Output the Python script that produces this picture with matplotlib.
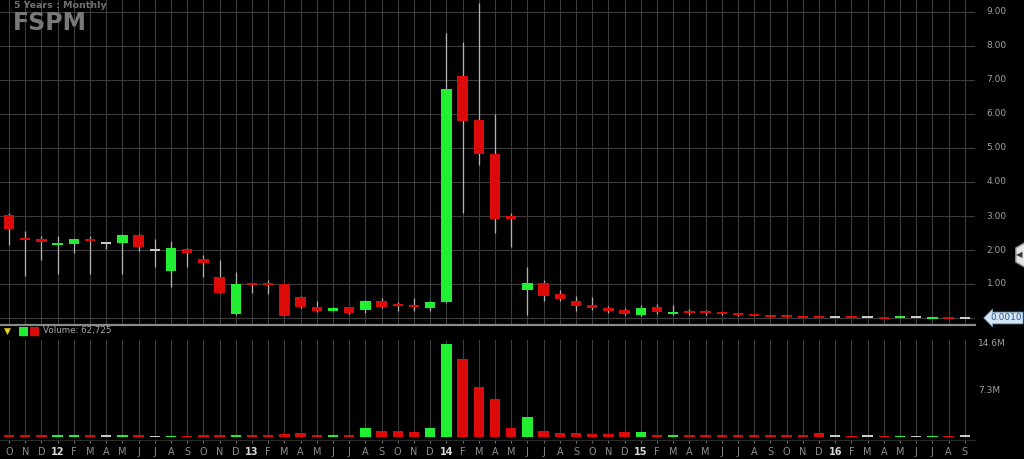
import matplotlib
matplotlib.use("Agg")
import matplotlib.pyplot as plt
from matplotlib.patches import RegularPolygon
from matplotlib.transforms import IdentityTransform

# ---------------- data ----------------
month_labels = ['O', 'N', 'D', '12', 'F', 'M', 'A', 'M', 'J', 'J', 'A', 'S',
                'O', 'N', 'D', '13', 'F', 'M', 'A', 'M', 'J', 'J', 'A', 'S',
                'O', 'N', 'D', '14', 'F', 'M', 'A', 'M', 'J', 'J', 'A', 'S',
                'O', 'N', 'D', '15', 'F', 'M', 'A', 'M', 'J', 'J', 'A', 'S',
                'O', 'N', 'D', '16', 'F', 'M', 'A', 'M', 'J', 'J', 'A', 'S']

opens = [3.03, 2.33, 2.32, 2.17, 2.17, 2.32, 2.20, 2.20, 2.44, 2.00, 1.38, 2.03,
         1.74, 1.21, 0.12, 1.00, 1.00, 1.00, 0.62, 0.32, 0.22, 0.32, 0.24, 0.50,
         0.39, 0.38, 0.30, 0.47, 7.12, 5.82, 4.82, 3.00, 0.82, 1.03, 0.71, 0.50,
         0.38, 0.30, 0.24, 0.09, 0.32, 0.12, 0.19, 0.18, 0.16, 0.11, 0.09, 0.07,
         0.05, 0.045, 0.035, 0.025, 0.025, 0.02, 0.015, 0.015, 0.02, 0.010, 0.012, 0.001]
highs = [3.10, 2.56, 2.41, 2.41, 2.33, 2.41, 2.22, 2.46, 2.46, 2.32, 2.26, 2.05,
         1.85, 1.71, 1.35, 1.00, 1.12, 1.00, 0.65, 0.50, 0.33, 0.33, 0.52, 0.59,
         0.47, 0.59, 0.50, 8.38, 8.12, 9.26, 6.00, 3.09, 1.50, 1.12, 0.82, 0.65,
         0.62, 0.35, 0.30, 0.38, 0.42, 0.38, 0.27, 0.25, 0.18, 0.14, 0.11, 0.09,
         0.07, 0.06, 0.05, 0.03, 0.03, 0.025, 0.02, 0.025, 0.025, 0.015, 0.015, 0.002]
lows = [2.15, 1.24, 1.70, 1.29, 1.91, 1.29, 2.03, 1.29, 1.97, 1.50, 0.91, 1.50,
        1.20, 0.74, 0.10, 0.74, 0.70, 0.06, 0.30, 0.18, 0.20, 0.12, 0.15, 0.30,
        0.20, 0.20, 0.20, 0.44, 3.09, 4.50, 2.50, 2.09, 0.09, 0.50, 0.50, 0.20,
        0.25, 0.15, 0.08, 0.05, 0.12, 0.10, 0.09, 0.08, 0.10, 0.06, 0.05, 0.04,
        0.03, 0.03, 0.02, 0.02, 0.015, 0.015, 0.01, 0.01, 0.015, 0.008, 0.008, 0.001]
closes = [2.62, 2.31, 2.23, 2.19, 2.32, 2.26, 2.20, 2.44, 2.09, 2.00, 2.06, 1.91,
          1.62, 0.74, 1.00, 0.99, 0.99, 0.06, 0.32, 0.20, 0.30, 0.15, 0.50, 0.32,
          0.37, 0.32, 0.47, 6.73, 5.79, 4.82, 2.91, 2.91, 1.03, 0.65, 0.56, 0.35,
          0.30, 0.21, 0.12, 0.30, 0.18, 0.15, 0.17, 0.16, 0.12, 0.10, 0.07, 0.06,
          0.04, 0.04, 0.03, 0.025, 0.02, 0.02, 0.012, 0.02, 0.02, 0.012, 0.010, 0.001]
volumes_m = [0.3, 0.3, 0.3, 0.3, 0.3, 0.3, 0.3, 0.3, 0.3, 0.15, 0.15, 0.1,
             0.3, 0.3, 0.3, 0.3, 0.3, 0.45, 0.55, 0.3, 0.3, 0.3, 1.4, 0.9,
             0.9, 0.8, 1.4, 14.6, 12.2, 7.85, 5.97, 1.4, 3.1, 0.9, 0.6, 0.6,
             0.5, 0.4, 0.8, 0.8, 0.35, 0.3, 0.3, 0.3, 0.3, 0.3, 0.3, 0.3,
             0.3, 0.3, 0.6, 0.3, 0.15, 0.3, 0.15, 0.2, 0.2, 0.2, 0.15, 0.3]
price_ticks = [1, 2, 3, 4, 5, 6, 7, 8, 9]
volume_ticks_m = [7.3, 14.6]
last_price = "0.0010"
volume_text = "Volume: 62,725"

# ---------------- style ----------------
BG = '#000000'
GREEN = '#22ee33'
RED = '#dd0a0a'
GRAY = '#c8c8c8'
GRID = '#3c3c3c'
TXT = '#a0a0a0'

W, H = 1024, 459
fig = plt.figure(figsize=(W / 100, H / 100), dpi=100, facecolor=BG)


def fx(px):
    return px / W


def fy(py):
    return 1 - py / H


n = len(opens)
xs = list(range(n))
x_left = -9 / 16.2
x_right = x_left + 975 / 16.2

ax = fig.add_axes([0, fy(324), fx(975), 324 / H], facecolor=BG)
axv = fig.add_axes([0, fy(440), fx(975), 116 / H], facecolor=BG, sharex=ax)

colors = []
for o, c in zip(opens, closes):
    if c > o:
        colors.append(GREEN)
    elif c < o:
        colors.append(RED)
    else:
        colors.append(GRAY)

# grid
for v in [0] + price_ticks:
    ax.axhline(v, color=GRID, lw=0.8, zorder=0)
for x in xs:
    ax.axvline(x, color=GRID, lw=0.8, zorder=0)
    axv.axvline(x, ymin=0.03, ymax=0.86, color=GRID, lw=0.8, zorder=0)

# candles
bw = 0.65
min_h = 0.06
ax.vlines(xs, lows, highs, color='#b4b4b4', lw=0.9, zorder=2)
for x, o, c, col in zip(xs, opens, closes, colors):
    lo, hi = min(o, c), max(o, c)
    h = hi - lo
    if h < min_h:
        mid = (lo + hi) / 2
        lo, h = mid - min_h / 2, min_h
    ax.bar(x, h, bottom=lo, width=bw, color=col, zorder=3, linewidth=0)

ax.set_xlim(x_left, x_right)
ax.set_ylim((318 - 324) / 34, 318 / 34)
ax.axis('off')

# volume
vmin = [max(v, 0.22) for v in volumes_m]
axv.bar(xs, vmin, width=bw, color=colors, zorder=3, linewidth=0)
axv.set_ylim(-3 / 93 * 14.6, (437 - 324) / 93 * 14.6)
for s in axv.spines.values():
    s.set_visible(False)
axv.set_yticks([])
axv.set_xticks(xs)
axv.set_xticklabels(month_labels)
axv.tick_params(axis='x', colors='#707070', length=2, width=0.8, pad=3,
                labelsize=7, labelcolor='#8e8e8e', direction='out')
for lab in axv.get_xticklabels():
    if lab.get_text().isdigit():
        lab.set_fontweight('bold')
        lab.set_color('#d8d8d8')

# separators
fig.add_artist(plt.Line2D([0, fx(975)], [fy(324.5), fy(324.5)], color='#8a8a8a', lw=1.6))
fig.add_artist(plt.Line2D([0, fx(975)], [fy(440), fy(440)], color='#2a2a2a', lw=0.8))

# right axis labels
for v in price_ticks:
    ax.text(1.012, v, f"{v:.2f}", transform=ax.get_yaxis_transform(),
            color=TXT, fontsize=6.5, va='center', ha='left', clip_on=False)
for v in volume_ticks_m:
    axv.text(1.003, v, f"{v}M", transform=axv.get_yaxis_transform(),
             color=TXT, fontsize=6.5, va='center', ha='left', clip_on=False)

# last price box
fig.text(fx(990), fy(318), last_price, color='#2c5c92', fontsize=6.5,
         va='center', ha='left',
         bbox=dict(boxstyle='larrow,pad=0.15', facecolor='#d4e6f3',
                   edgecolor='#7aa6cc', lw=0.6))

# scroll button at right edge
hexa = RegularPolygon((1028, H - 255), 6, radius=14, orientation=0,
                      facecolor='#e6e6e6', edgecolor='#9a9a9a',
                      transform=IdentityTransform())
fig.add_artist(hexa)
fig.text(fx(1019), fy(255), '◀', color='#333333', fontsize=6, va='center', ha='center')

# titles
fig.text(fx(14), fy(6), '5 Years : Monthly', color='#707070', fontsize=6.8,
         fontweight='semibold', va='center', ha='left')
fig.text(fx(13), fy(23), 'FSPM', color='#787878', fontsize=17, fontweight='bold',
         va='center', ha='left')

# volume legend
fig.text(fx(7), fy(331), '▼', color='#e6d21e', fontsize=6.5, va='center', ha='center')
fig.text(fx(24), fy(331), '■', color=GREEN, fontsize=8.5, va='center', ha='center')
fig.text(fx(35), fy(331), '■', color=RED, fontsize=8.5, va='center', ha='center')
fig.text(fx(43), fy(331), volume_text, color='#a8a8a8', fontsize=6.3,
         va='center', ha='left')

fig.savefig('out.png', dpi=100, facecolor=BG)
